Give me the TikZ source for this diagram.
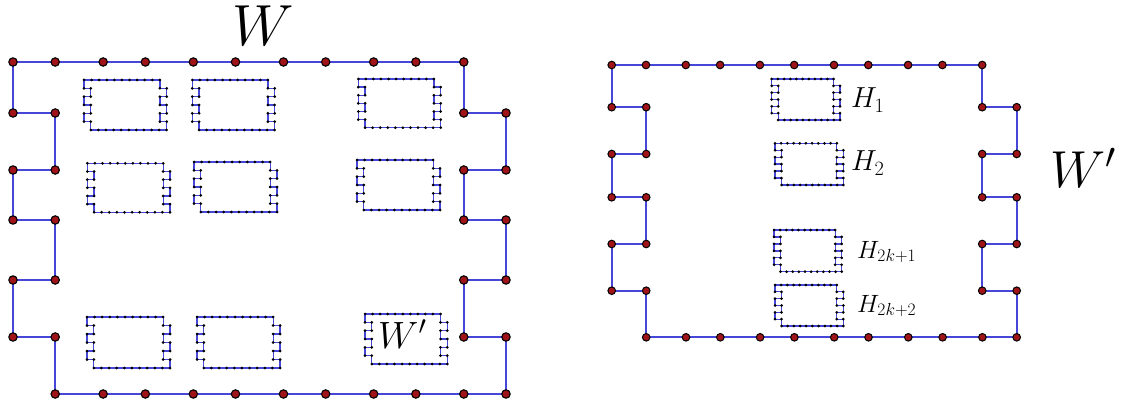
\RequirePackage{fix-cm}
\documentclass[tikz,border=0pt]{standalone}
\definecolor{lineblue}{RGB}{70,70,215}
\definecolor{dotred}{RGB}{160,20,25}
\tikzset{
  dotr/.store in=\dotr, dotr=4pt,
  bigdot/.style={fill=dotred,draw=black,line width=1.1pt,dotr=4.2pt},
  rdot/.style={fill=dotred,draw=black,line width=1.0pt,dotr=3.8pt},
  smalldot/.style={fill=black,draw=none,dotr=1.5pt},
  bigline/.style={draw=lineblue,line width=1.9pt,line join=miter},
  smallline/.style={draw=lineblue,line width=1.3pt},
  lbl/.style={inner sep=0pt}
}
\def\parserungs#1,#2,#3,#4,#5\relax{\def\rungA{#1}\def\rungB{#2}\def\rungC{#3}\def\rungD{#4}\def\rungE{#5}}
% #1 xl, #2 yt, #3 xr, #4 yb, #5 depth, #6 short spacing, #7 dot style, #8 line style, #9 rungs
\newcommand\frm[9]{%
  \begingroup
  \pgfmathsetmacro\xl{#1}\pgfmathsetmacro\yt{#2}\pgfmathsetmacro\xr{#3}\pgfmathsetmacro\yb{#4}%
  \pgfmathsetmacro\dd{#5}\pgfmathsetmacro\ss{#6}%
  \pgfmathsetmacro\xli{\xl+\dd}\pgfmathsetmacro\xri{\xr-\dd}%
  \parserungs#9\relax
  \pgfmathsetmacro\LL{(\xr-\xl-\dd)/5-\ss}%
  \draw[#8] (\xl,\yt) -- (\xri,\yt) -- (\xri,\rungA) -- (\xr,\rungA) -- (\xr,\rungB)
    -- (\xri,\rungB) -- (\xri,\rungC) -- (\xr,\rungC) -- (\xr,\rungD) -- (\xri,\rungD)
    -- (\xri,\rungE) -- (\xr,\rungE) -- (\xr,\yb) -- (\xli,\yb) -- (\xli,\rungE)
    -- (\xl,\rungE) -- (\xl,\rungD) -- (\xli,\rungD) -- (\xli,\rungC) -- (\xl,\rungC)
    -- (\xl,\rungB) -- (\xli,\rungB) -- (\xli,\rungA) -- (\xl,\rungA) -- cycle;
  \foreach \k in {0,...,10}{%
    \pgfmathsetmacro\xa{\xl+ceil(\k/2)*\ss+floor(\k/2)*\LL}%
    \pgfmathsetmacro\xb{\xli+ceil(\k/2)*\LL+floor(\k/2)*\ss}%
    \filldraw[#7] (\xa,\yt) circle[radius=\dotr];
    \filldraw[#7] (\xb,\yb) circle[radius=\dotr];
  }
  \foreach \r in {\rungA,\rungB,\rungC,\rungD,\rungE}{%
    \filldraw[#7] (\xl,\r) circle[radius=\dotr];
    \filldraw[#7] (\xli,\r) circle[radius=\dotr];
    \filldraw[#7] (\xri,\r) circle[radius=\dotr];
    \filldraw[#7] (\xr,\r) circle[radius=\dotr];
  }
  \endgroup
}
% small box: #1 xl, #2 yt, #3 xr, #4 yb, #5 depth
\newcommand\smallfrm[5]{%
  \pgfmathsetmacro\myh{(#4-#2)/6}%
  \pgfmathsetmacro\mys{(#3-#1-#5)/10}%
  \pgfmathsetmacro\qa{#2+\myh}\pgfmathsetmacro\qb{#2+2*\myh}\pgfmathsetmacro\qc{#2+3*\myh}%
  \pgfmathsetmacro\qd{#2+4*\myh}\pgfmathsetmacro\qe{#2+5*\myh}%
  \frm{#1}{#2}{#3}{#4}{#5}{\mys}{smalldot}{smallline}{\qa,\qb,\qc,\qd,\qe}%
}
\begin{document}
\begin{tikzpicture}[x=1pt,y=-1pt]
\useasboundingbox (0,0) rectangle (1126,406);
% left figure
\frm{13}{62}{506}{394}{42.2}{42.2}{bigdot}{bigline}{113,170,220,280,337}
\smallfrm{84}{80}{166.7}{130}{6.8}
\smallfrm{192.3}{80}{274.7}{130}{6.8}
\smallfrm{358.3}{79}{440.7}{127.7}{6.8}
\smallfrm{87.3}{163.3}{170}{212.3}{6.8}
\smallfrm{194}{162}{277}{212}{6.8}
\smallfrm{357}{160}{440}{210}{6.8}
\smallfrm{87}{317}{170}{368}{6.8}
\smallfrm{197}{317}{280}{368}{6.8}
\smallfrm{365}{314}{447.3}{364}{6.8}
% right figure
\frm{611.7}{65}{1016.7}{337.3}{34.5}{34.3}{rdot}{bigline}{107.2,154,197.3,244,290.7}
\smallfrm{771.7}{79}{840}{120}{6.5}
\smallfrm{775}{143.3}{843.3}{185}{6.5}
\smallfrm{774}{230}{841.7}{271.7}{6.5}
\smallfrm{775}{285}{843.3}{326}{6.5}
% labels
\node[lbl,anchor=base,font=\fontsize{58}{62}\selectfont] (W) at (263,46) {$W$};
\node[lbl,anchor=base west,font=\fontsize{52}{56}\selectfont] (Wp) at (1050,187) {$W'$};
\node[lbl,anchor=base west,font=\fontsize{38}{40}\selectfont] (Win) at (378,348) {$W'$};
\node[lbl,anchor=base west,font=\fontsize{29}{31}\selectfont] (H1) at (851,108) {$H_1$};
\node[lbl,anchor=base west,font=\fontsize{29}{31}\selectfont] (H2) at (851,171) {$H_2$};
\node[lbl,anchor=base west,font=\fontsize{25}{27}\selectfont] (H3) at (857,258) {$H_{2k+1}$};
\node[lbl,anchor=base west,font=\fontsize{25}{27}\selectfont] (H4) at (857,312) {$H_{2k+2}$};
\end{tikzpicture}
\end{document}
